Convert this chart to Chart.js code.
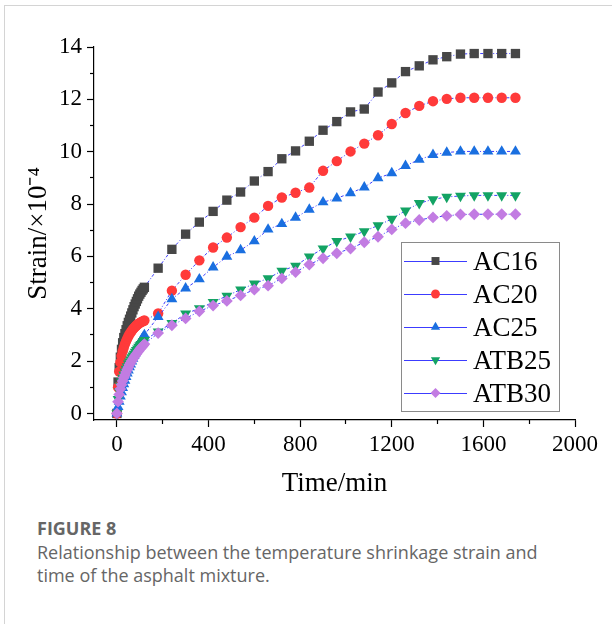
<!DOCTYPE html>
<html><head><meta charset="utf-8">
<script src="https://cdn.jsdelivr.net/npm/chart.js@4.4.0/dist/chart.umd.min.js"></script>
<style>
html,body{margin:0;padding:0;background:#fff;width:612px;height:624px;overflow:hidden;}
#frame{position:absolute;left:4px;top:5px;width:700px;height:700px;border:1px solid #d4d4d4;}
#wrap{position:absolute;left:0;top:0;width:612px;height:510px;}
#cap{position:absolute;left:37px;top:515px;font-family:'Open Sans',sans-serif;color:#666;}
.fig{font-weight:700;font-size:18px;line-height:26px;}
.txt{font-size:18px;line-height:23px;}
</style></head><body>
<div id="frame"></div>
<div id="wrap"><canvas id="c" width="612" height="510"></canvas></div>
<div id="cap"><div class="fig">FIGURE 8</div><div class="txt">Relationship between the temperature shrinkage strain and<br>time of the asphalt mixture.</div></div>
<script>
// ---- data ----
const times = [0,5,10,15,20,25,30,35,40,45,50,55,60,65,70,75,80,85,90,95,100,105,110,115,120,
  180,240,300,360,420,480,540,600,660,720,780,840,900,960,1020,1080,1140,1200,1260,1320,1380,1440,1500,1560,1620,1680,1740];
const seriesNames = ['AC16','AC20','AC25','ATB25','ATB30'];
const AC16 = [0,1.2,1.75,2.15,2.45,2.7,2.9,3.05,3.2,3.35,3.48,3.6,3.72,3.84,3.96,4.08,4.18,4.28,4.38,4.48,4.56,4.63,4.7,4.76,4.82,
  5.55,6.27,6.85,7.31,7.72,8.15,8.46,8.88,9.24,9.73,10.03,10.40,10.82,11.15,11.52,11.63,12.28,12.63,13.06,13.28,13.51,13.63,13.73,13.75,13.75,13.75,13.75];
const AC20 = [0,1.0,1.6,1.95,2.2,2.38,2.52,2.65,2.76,2.86,2.95,3.03,3.1,3.16,3.22,3.27,3.32,3.36,3.4,3.43,3.46,3.49,3.51,3.53,3.55,
  3.82,4.69,5.30,5.85,6.34,6.72,7.12,7.48,7.93,8.25,8.43,8.63,9.27,9.64,10.01,10.31,10.63,11.06,11.48,11.75,11.93,12.02,12.06,12.06,12.06,12.06,12.06];
const AC25 = [0,0.25,0.45,0.65,0.82,0.98,1.12,1.26,1.4,1.53,1.65,1.77,1.88,1.99,2.1,2.2,2.3,2.4,2.5,2.6,2.69,2.77,2.85,2.92,3.0,
  3.69,4.37,4.78,5.13,5.58,5.99,6.24,6.58,7.03,7.24,7.48,7.79,8.07,8.22,8.42,8.64,8.99,9.18,9.46,9.70,9.88,9.97,10.01,10.01,10.01,10.01,10.01];
const ATB25 = [0,0.55,0.85,1.05,1.22,1.36,1.48,1.6,1.7,1.8,1.9,1.98,2.06,2.14,2.21,2.28,2.35,2.42,2.48,2.54,2.6,2.65,2.7,2.75,2.8,
  3.13,3.45,3.81,4.01,4.25,4.49,4.73,4.96,5.16,5.45,5.64,5.99,6.30,6.58,6.75,6.96,7.18,7.43,7.75,8.03,8.18,8.27,8.31,8.33,8.33,8.33,8.33];
const ATB30 = [0,0.45,0.72,0.93,1.1,1.24,1.36,1.47,1.58,1.68,1.77,1.86,1.94,2.01,2.08,2.15,2.21,2.27,2.33,2.39,2.45,2.5,2.55,2.6,2.65,
  3.07,3.37,3.63,3.90,4.12,4.30,4.51,4.73,4.88,5.16,5.40,5.69,5.93,6.12,6.30,6.54,6.75,7.03,7.27,7.39,7.49,7.55,7.60,7.61,7.61,7.61,7.61];
const xMajorTicks = [0,400,800,1200,1600,2000];
const yMajorTicks = [0,2,4,6,8,10,12,14];

// ---- styling ----
const lineColor = '#3c3cff';
const styles = [
  {color:'#474747', pointStyle:'rect', radius:6.6, rotation:0},
  {color:'#ff3a3a', pointStyle:'circle', radius:5.2, rotation:0},
  {color:'#1a6fe0', pointStyle:'triangle', radius:6.3, rotation:0},
  {color:'#13a364', pointStyle:'triangle', radius:6.3, rotation:180},
  {color:'#c27ce2', pointStyle:'rectRot', radius:5.9, rotation:0}
];
const allSeries = [AC16, AC20, AC25, ATB25, ATB30];

const datasets = allSeries.map((vals, i) => ({
  label: seriesNames[i],
  data: vals.map((v, k) => ({x: times[k], y: v})),
  borderColor: lineColor,
  borderWidth: 1,
  borderDash: [3,2,1,2],
  pointStyle: styles[i].pointStyle,
  pointRotation: styles[i].rotation,
  pointRadius: styles[i].radius,
  pointBackgroundColor: styles[i].color,
  pointBorderColor: styles[i].color,
  pointBorderWidth: 0,
  tension: 0,
  order: 4 - i
}));

const legendPlugin = {
  id: 'boxLegend',
  afterDatasetsDraw(chart) {
    const ctx = chart.ctx;
    ctx.save();
    ctx.fillStyle = '#fff';
    ctx.fillRect(401.5, 242.5, 158, 169);
    ctx.strokeStyle = '#8a8a8a';
    ctx.lineWidth = 1;
    ctx.setLineDash([]);
    ctx.strokeRect(401.5, 242.5, 158, 169);
    chart.data.datasets.forEach((ds, i) => {
      const y = 261 + i * 33;
      ctx.strokeStyle = lineColor;
      ctx.lineWidth = 1;
      ctx.beginPath(); ctx.moveTo(404, y + 0.5); ctx.lineTo(467, y + 0.5); ctx.stroke();
      ctx.fillStyle = ds.pointBackgroundColor;
      ctx.strokeStyle = ds.pointBorderColor;
      Chart.helpers.drawPoint(ctx, {pointStyle: ds.pointStyle, rotation: ds.pointRotation, radius: ds.pointRadius * 0.85, borderWidth: 0}, 435.5, y);
      ctx.fillStyle = '#000';
      ctx.font = '27px "Liberation Serif"';
      ctx.textBaseline = 'alphabetic';
      ctx.textAlign = 'left';
      ctx.fillText(ds.label, 473, y + 9);
    });
    ctx.restore();
  }
};

const serif = 'Liberation Serif';
const plain = v => String(v);
new Chart(document.getElementById('c'), {
  type: 'line',
  data: {datasets},
  plugins: [legendPlugin],
  options: {
    responsive: false,
    animation: false,
    devicePixelRatio: 1,
    events: [],
    layout: {padding: {left: 0, right: 37, top: 47, bottom: 0}},
    plugins: {legend: {display: false}, tooltip: {enabled: false}},
    scales: {
      x: {
        type: 'linear', position: 'bottom', weight: 1, min: -100, max: 2000,
        afterBuildTicks: s => { s.ticks = xMajorTicks.map(v => ({value: v})); },
        afterFit: s => { s.height = 90; },
        ticks: {stepSize: 400, callback: plain, color: '#000', font: {family: serif, size: 23}, padding: 4, maxRotation: 0, autoSkip: false},
        grid: {drawOnChartArea: false, drawTicks: true, tickLength: 7, tickColor: '#000', tickWidth: 1.2},
        border: {color: '#000', width: 1.2},
        title: {display: true, text: 'Time/min', color: '#000', font: {family: serif, size: 27}, padding: {top: 0, bottom: 10}}
      },
      xm: {
        type: 'linear', position: 'bottom', weight: 0, min: -100, max: 2000,
        afterBuildTicks: s => { s.ticks = [200,600,1000,1400,1800].map(v => ({value: v})); },
        afterFit: s => { s.height = 0; },
        ticks: {display: false, stepSize: 200},
        grid: {drawOnChartArea: false, drawTicks: true, tickLength: 4, tickColor: '#000', tickWidth: 1.2},
        border: {display: false}
      },
      y: {
        type: 'linear', position: 'left', weight: 1, min: -0.25, max: 14,
        afterBuildTicks: s => { s.ticks = yMajorTicks.map(v => ({value: v})); },
        afterFit: s => { s.width = 94; },
        ticks: {stepSize: 2, callback: plain, color: '#000', font: {family: serif, size: 23}, padding: 5, autoSkip: false},
        grid: {drawOnChartArea: false, drawTicks: true, tickLength: 7, tickColor: '#000', tickWidth: 1.2},
        border: {color: '#000', width: 1.2},
        title: {display: true, text: 'Strain/×10⁻⁴', color: '#000', font: {family: serif, size: 27}, padding: {top: 23, bottom: 0}}
      },
      ym: {
        type: 'linear', position: 'left', weight: 0, min: -0.25, max: 14,
        afterBuildTicks: s => { s.ticks = [1,3,5,7,9,11,13].map(v => ({value: v})); },
        afterFit: s => { s.width = 0; },
        ticks: {display: false, stepSize: 1},
        grid: {drawOnChartArea: false, drawTicks: true, tickLength: 4, tickColor: '#000', tickWidth: 1.2},
        border: {display: false}
      }
    }
  }
});
</script>
</body></html>
